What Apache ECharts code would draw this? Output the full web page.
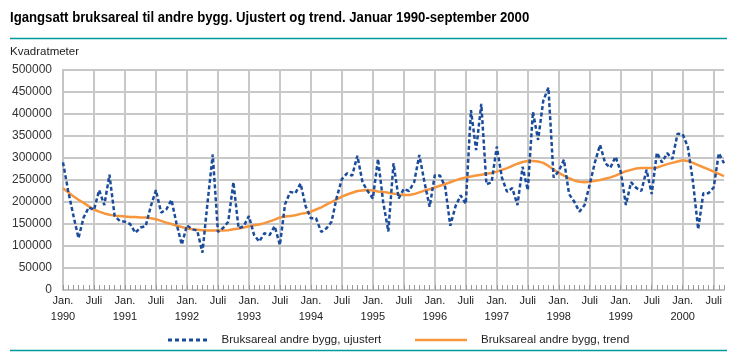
<!DOCTYPE html>
<html>
<head>
<meta charset="utf-8">
<script src="https://cdn.jsdelivr.net/npm/echarts@6/dist/echarts.min.js"></script>
<style>
html,body{margin:0;padding:0;background:#fff;}
#c{width:739px;height:359px;}
</style>
</head>
<body>
<div id="c"></div>
<script>
const titleText = 'Igangsatt bruksareal til andre bygg. Ujustert og trend. Januar 1990-september 2000';
const unitText = 'Kvadratmeter';
const seriesNames = ['Bruksareal andre bygg, ujustert', 'Bruksareal andre bygg, trend'];
const years = [1990,1991,1992,1993,1994,1995,1996,1997,1998,1999,2000];
const monthsInLastYear = 9;

const ujustert = [
  290000,225000,170000,118000,165000,188000,182000,227000,193000,262000,168000,157000,
  155000,150000,130000,142000,145000,190000,227000,176000,183000,205000,150000,103000,
  147000,138000,135000,85000,200000,308000,132000,141000,155000,245000,140000,145000,
  168000,125000,110000,129000,125000,145000,102000,195000,223000,220000,242000,190000,
  163000,163000,132000,140000,155000,210000,252000,265000,260000,305000,245000,225000,
  208000,298000,200000,133000,288000,208000,230000,225000,245000,307000,245000,189000,
  261000,260000,235000,146000,190000,215000,196000,409000,318000,423000,240000,245000,
  326000,255000,223000,232000,193000,280000,227000,405000,341000,430000,460000,256000,
  270000,296000,218000,201000,178000,193000,240000,290000,330000,288000,278000,303000,
  269000,193000,245000,232000,225000,273000,218000,312000,290000,311000,298000,355000,
  354000,325000,245000,138000,220000,220000,233000,311000,288000
];

const trend = [
  231000,222000,213000,205000,198000,190000,183000,178000,174000,171000,169000,168000,
  167000,166000,166000,165000,165000,163000,161000,157000,153000,150000,146000,143000,
  140000,138000,137000,136000,135000,135000,135000,135000,136000,138000,140000,142000,
  145000,147000,149000,152000,156000,160000,165000,167000,168000,170000,173000,175000,
  178000,183000,188000,194000,200000,206000,212000,217000,221000,225000,226000,227000,
  226000,224000,223000,221000,219000,217000,216000,216000,218000,222000,226000,229000,
  233000,237000,241000,245000,249000,253000,256000,258000,260000,262000,264000,266000,
  269000,273000,277000,282000,287000,291000,293000,293000,292000,289000,282000,274000,
  266000,260000,254000,249000,246000,245000,246000,248000,250000,253000,256000,260000,
  265000,270000,273000,276000,277000,277000,277000,278000,282000,286000,289000,292000,
  295000,293000,289000,284000,279000,274000,269000,264000,259000
];

const categories = [];
years.forEach((y, yi) => {
  const n = (yi === years.length - 1) ? monthsInLastYear : 12;
  for (let m = 0; m < n; m++) categories.push(y + '-' + String(m + 1).padStart(2, '0'));
});

const FONT = "'Liberation Sans', Arial, sans-serif";
const dashIcon = 'path://M0,0h4v3h-4z M7,0h4v3h-4z M14,0h4v3h-4z M21,0h4v3h-4z M28,0h4v3h-4z M35,0h4v3h-4z';
const chart = echarts.init(document.getElementById('c'), null, {renderer: 'canvas'});
chart.setOption({
  animation: false,
  backgroundColor: '#ffffff',
  title: [
    {text: unitText, left: 10, top: 46, padding: 0, textStyle: {fontFamily: FONT, fontSize: 11.5, fontWeight: 'normal', color: '#222'}}
  ],
  graphic: [
    {type: 'text', x: 10, y: 11, scaleX: 0.94, style: {text: titleText, font: "bold 14px 'Liberation Sans', Arial, sans-serif", fill: '#000'}},
    {type: 'line', shape: {x1: 10, y1: 38.5, x2: 727, y2: 38.5}, style: {stroke: '#009a9a', lineWidth: 1.5}},
    {type: 'line', shape: {x1: 10, y1: 350.5, x2: 727, y2: 350.5}, style: {stroke: '#009a9a', lineWidth: 1.5}}
  ],
  legend: [
    {left: 163, top: 329, icon: dashIcon, itemWidth: 42, itemHeight: 3, data: [seriesNames[0]], textStyle: {fontFamily: FONT, fontSize: 11.5, color: '#222', padding: [0,0,0,8]}},
    {left: 410, top: 329, icon: 'rect', itemWidth: 52, itemHeight: 2.5, data: [seriesNames[1]], textStyle: {fontFamily: FONT, fontSize: 11.5, color: '#222', padding: [0,0,0,9]}}
  ],
  grid: {left: 63, right: 15, top: 70, bottom: 69, containLabel: false},
  xAxis: {
    type: 'category',
    data: categories,
    boundaryGap: false,
    axisLine: {show: true, lineStyle: {color: '#c4c4c4', width: 2}},
    axisTick: {show: true, inside: true, interval: 0, length: 5, lineStyle: {color: '#999999', width: 1}},
    axisLabel: {
      interval: 5,
      formatter: (v) => v.slice(5) === '01' ? 'Jan.\n' + v.slice(0, 4) : 'Juli',
      fontFamily: FONT, fontSize: 11, color: '#222', lineHeight: 16, margin: 3
    },
    splitLine: {show: true, interval: 5, lineStyle: {color: '#c8c8c8', width: 2}}
  },
  yAxis: {
    type: 'value',
    min: 0, max: 500000, interval: 50000,
    axisLine: {show: true, lineStyle: {color: '#c4c4c4', width: 2}},
    axisTick: {show: false},
    axisLabel: {fontFamily: FONT, fontSize: 12, color: '#333', margin: 11, formatter: (v) => String(v)},
    splitLine: {show: true, lineStyle: {color: '#c8c8c8', width: 2}}
  },
  series: [
    {name: seriesNames[0], type: 'line', data: ujustert, symbol: 'none', z: 4,
     lineStyle: {color: '#1b4c9c', width: 2.5, type: [4, 2.5]}, itemStyle: {color: '#1b4c9c'}},
    {name: seriesNames[1], type: 'line', data: trend, symbol: 'none', z: 3,
     lineStyle: {color: '#f7963c', width: 2.5}, itemStyle: {color: '#f7963c'}}
  ]
});
</script>
</body>
</html>
